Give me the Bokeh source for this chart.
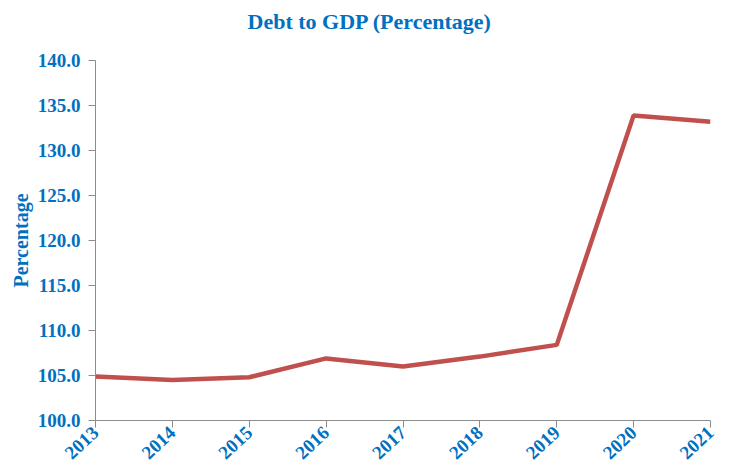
from bokeh.plotting import figure
from bokeh.models import Range1d, FixedTicker, CustomJSTickFormatter, Title
from bokeh.embed import file_html
from bokeh.resources import INLINE

years = [2013, 2014, 2015, 2016, 2017, 2018, 2019, 2020, 2021]
debt_pct = [104.9, 104.5, 104.8, 106.9, 106.0, 107.1, 108.4, 133.9, 133.2]
y_ticks = [100, 105, 110, 115, 120, 125, 130, 135, 140]

BLUE = "#0070C0"
FONT = "Liberation Serif"

p = figure(width=723, height=467, output_backend="svg", toolbar_location=None,
           x_range=Range1d(2013, 2021), y_range=Range1d(100, 140),
           min_border_left=95, min_border_right=13, min_border_top=60, min_border_bottom=46)

p.line(years, debt_pct, line_color="#C0504D", line_width=4.5)

p.title.text = "Debt to GDP (Percentage)"
p.title.text_font = FONT
p.title.text_font_style = "bold"
p.title.text_font_size = "22px"
p.title.text_color = BLUE
p.title.align = "left"
p.title.offset = 152
p.title.standoff = 6

spacer = Title(text=" ", text_font_size="20px", standoff=0)
p.add_layout(spacer, "above")

p.grid.visible = False
p.outline_line_color = None

for ax in (p.xaxis, p.yaxis):
    ax.axis_line_color = "#8c8c8c"
    ax.major_tick_line_color = "#8c8c8c"
    ax.major_tick_in = 0
    ax.major_tick_out = 7
    ax.minor_tick_line_color = None
    ax.major_label_text_font = FONT
    ax.major_label_text_font_style = "bold"
    ax.major_label_text_color = BLUE
    ax.major_label_text_font_size = "19px"

p.xaxis.ticker = FixedTicker(ticks=years)
p.xaxis.major_label_orientation = 0.75
p.xaxis.major_label_standoff = 2

p.yaxis.ticker = FixedTicker(ticks=y_ticks)
p.yaxis.formatter = CustomJSTickFormatter(code="return tick.toFixed(1);")
p.yaxis.major_label_standoff = 8
p.yaxis.axis_label = "Percentage"
p.yaxis.axis_label_text_font = FONT
p.yaxis.axis_label_text_font_style = "bold"
p.yaxis.axis_label_text_font_size = "20px"
p.yaxis.axis_label_text_color = BLUE
p.yaxis.axis_label_standoff = 3

open("out.html", "w").write(file_html(p, INLINE))
